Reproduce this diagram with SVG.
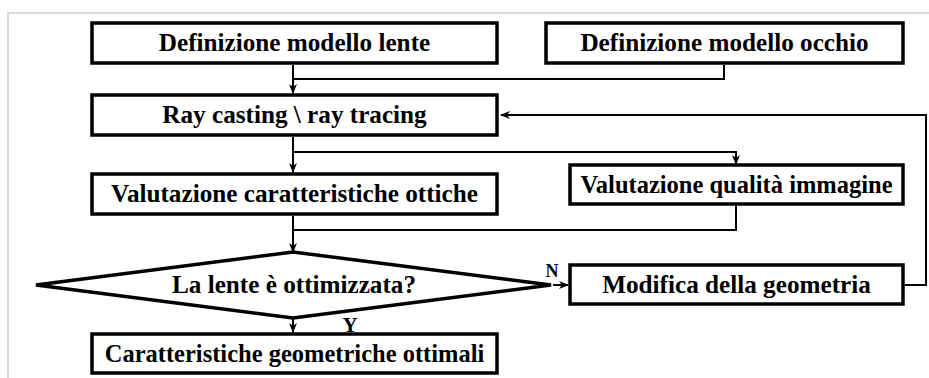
<svg xmlns="http://www.w3.org/2000/svg" width="929" height="378" viewBox="0 0 929 378">
<defs>
<style>
.box{fill:#fff;stroke:#000;stroke-width:3.5}
.t{font-family:'Liberation Serif','Times New Roman',serif;font-weight:bold;font-size:25.2px;fill:#000;text-anchor:middle}
.s{font-size:24.5px}
.c{fill:none;stroke:#000;stroke-width:2}
.lbl{font-family:'Liberation Serif','Times New Roman',serif;font-weight:bold;fill:#000;text-anchor:middle}
</style>
<marker id="ah" markerWidth="10" markerHeight="10" refX="9" refY="5" orient="auto" markerUnits="userSpaceOnUse">
<path d="M0,1 L10,5 L0,9 L3,5 z" fill="#000"/>
</marker>
</defs>
<rect width="929" height="378" fill="#fff"/>
<path d="M8,378 L8,13 L929,13" fill="none" stroke="#cfcfcf" stroke-width="1.5"/>
<g id="connectors">
<path class="c" d="M293,65 L293,93" marker-end="url(#ah)"/>
<path class="c" d="M724,65 L724,79 L293,79"/>
<path class="c" d="M905,285 L926,285 L926,115 L501,115" marker-end="url(#ah)"/>
<path class="c" d="M293,137 L293,172" marker-end="url(#ah)"/>
<path class="c" d="M293,152 L736,152 L736,164" marker-end="url(#ah)"/>
<path class="c" d="M293,216 L293,252" marker-end="url(#ah)"/>
<path class="c" d="M736,206 L736,230 L293,230"/>
<path class="c" d="M553,285 L568,285" marker-end="url(#ah)"/>
<path class="c" d="M293,318 L293,332" marker-end="url(#ah)"/>
<text class="lbl" x="552" y="277" font-size="18">N</text>
<text class="lbl" x="350" y="332" font-size="21">Y</text>
</g>
<g id="n1"><rect class="box" x="92" y="23" width="405" height="40"/><text class="t" x="294.5" y="51">Definizione modello lente</text></g>
<g id="n2"><rect class="box" x="546" y="23" width="357" height="40"/><text class="t" x="724.5" y="51">Definizione modello occhio</text></g>
<g id="n3"><rect class="box" x="92" y="95" width="405" height="40"/><text class="t" x="294.5" y="123">Ray casting \ ray tracing</text></g>
<g id="n4"><rect class="box" x="92" y="174" width="405" height="40"/><text class="t" x="294.5" y="202">Valutazione caratteristiche ottiche</text></g>
<g id="n5"><rect class="box" x="570" y="165" width="333" height="39"/><text class="t s" x="736.5" y="193">Valutazione qualità immagine</text></g>
<g id="n6"><polygon class="box" points="36,285 293,252 551,285 293,318"/><text class="t" x="294" y="293">La lente è ottimizzata?</text></g>
<g id="n7"><rect class="box" x="570" y="265" width="333" height="39"/><text class="t" x="736.5" y="293">Modifica della geometria</text></g>
<g id="n8"><rect class="box" x="92" y="334" width="405" height="39"/><text class="t s" x="294.5" y="362">Caratteristiche geometriche ottimali</text></g>
</svg>
